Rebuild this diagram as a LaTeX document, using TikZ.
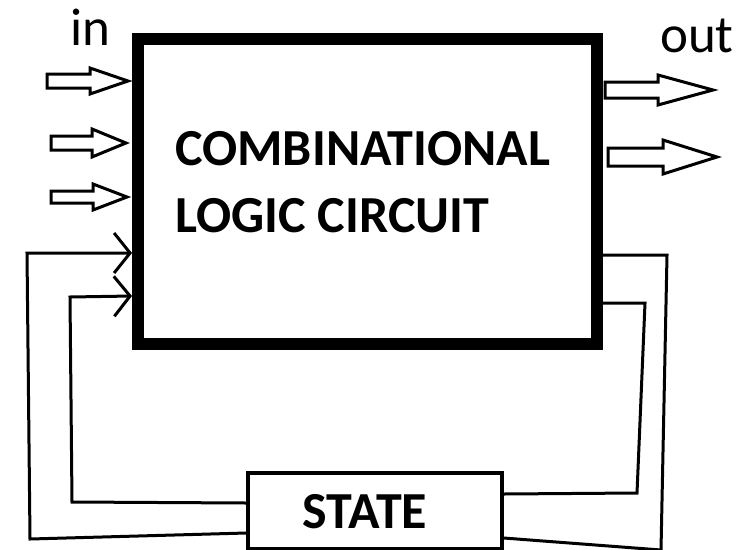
\documentclass[tikz,border=0pt]{standalone}
\usepackage{fontspec}
\setmainfont{Carlito}
\usetikzlibrary{arrows.meta}

% hollow block arrow: start x, head x, tip x, centre y, half shaft, half head
\newcommand\blockarrow[6]{%
  \draw[blockarrow] (#1,#4-#5) -- (#2,#4-#5) -- (#2,#4-#6) -- (#3,#4)
    -- (#2,#4+#6) -- (#2,#4+#5) -- (#1,#4+#5) -- cycle;}

\begin{document}
\begin{tikzpicture}[x=1pt, y=-1pt,
  lbl/.style={inner sep=0pt, font=\fontsize{53}{64}\selectfont},
  caption/.style={inner sep=0pt, font=\fontsize{52}{64}\selectfont\bfseries},
  blockarrow/.style={draw, line width=3pt, line join=miter, fill=white},
  wire/.style={draw, line width=3pt, line join=miter},
  fbtip/.style={-{Straight Barb[length=16pt, width=40pt]}},
  mainbox/.style={draw, line width=12pt, inner sep=0pt,
    minimum width=459pt, minimum height=305pt},
  statebox/.style={draw, line width=3.5pt, inner sep=0pt,
    minimum width=254pt, minimum height=76pt}]
\useasboundingbox (0,0) rectangle (738,549);

% combinational block and its caption
\node[mainbox] (clc) at (367.5,191.5) {};
\node[caption, anchor=base west] (comb)  at (175,165) {COMBINATIONAL};
\node[caption, anchor=base west] (logic) at (175,232) {LOGIC CIRCUIT};

% state register
\node[statebox] (state) at (375,511) {};
\node[caption, anchor=base] (statetxt) at (365,528) {STATE};

% input / output labels
\node[lbl, anchor=base west] (inlbl)  at (70,45)  {in};
\node[lbl, anchor=base west] (outlbl) at (660,52) {out};

% external inputs
\blockarrow{47}{90}{128}{81}{7}{13}
\blockarrow{51}{92}{126}{143}{7}{14}
\blockarrow{51}{93}{127}{197}{6}{13}

% external outputs
\blockarrow{605}{658}{713}{90}{8}{15}
\blockarrow{608}{663}{717}{157}{9}{17}

% feedback from the state register back into the logic
\draw[wire, fbtip] (state.west |- 0,533) -- (30,539) -- (27,253) -- (clc.west |- 0,253);
\draw[wire, fbtip] (state.west |- 0,503) -- (72,502) -- (70,297) -- (clc.west |- 0,296);

% next-state lines from the logic into the register
\draw[wire] (clc.east |- 0,303) -- (645,303) -- (637,493) -- (state.east |- 0,494);
\draw[wire] (clc.east |- 0,255) -- (667,255) -- (661,550) -- (state.east |- 0,538);
\end{tikzpicture}
\end{document}
